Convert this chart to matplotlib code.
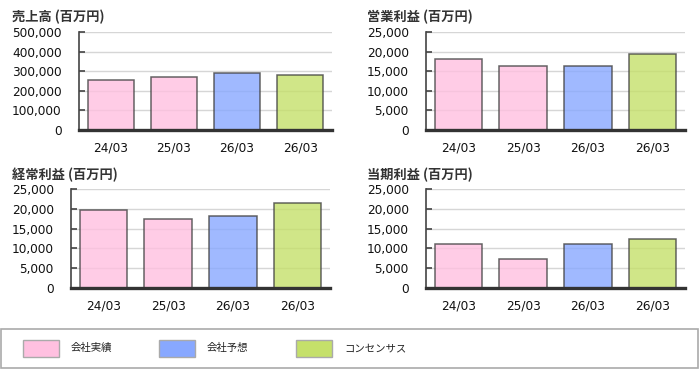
import matplotlib
matplotlib.use("Agg")
import matplotlib.pyplot as plt
from matplotlib.patches import Rectangle
from matplotlib.ticker import FuncFormatter, MultipleLocator

plt.rcParams['font.family'] = ['DejaVu Sans', 'Noto Sans CJK JP']

categories = ['24/03', '25/03', '26/03', '26/03']
series_kind = ['actual', 'actual', 'forecast', 'consensus']
sales = [254000, 270000, 289000, 283000]
operating = [18100, 16400, 16400, 19300]
ordinary = [19700, 17400, 18300, 21400]
net = [11200, 7200, 11200, 12500]

titles = ['売上高 (百万円)', '営業利益 (百万円)', '経常利益 (百万円)', '当期利益 (百万円)']
legend_labels = ['会社実績', '会社予想', 'コンセンサス']
kind_colors = {'actual': (255/255, 192/255, 224/255),
               'forecast': (136/255, 168/255, 255/255),
               'consensus': (197/255, 224/255, 106/255)}
legend_kinds = ['actual', 'forecast', 'consensus']

W, H = 699, 375
fig = plt.figure(figsize=(W/100, H/100), dpi=100)

def px_axes(left, right, top, bottom):
    return fig.add_axes([left/W, 1 - bottom/H, (right-left)/W, (bottom-top)/H])

panels = [
    (sales, 500000, 100000, (79, 332, 32, 130), (12, 17)),
    (operating, 25000, 5000, (426, 685, 32, 130), (367, 17)),
    (ordinary, 25000, 5000, (71, 330, 189, 288), (12, 175)),
    (net, 25000, 5000, (426, 685, 189, 288), (367, 175)),
]

for (vals, ymax, step, box, tpos), title in zip(panels, titles):
    ax = px_axes(*box)
    x = range(len(categories))
    for i, v in enumerate(vals):
        c = kind_colors[series_kind[i]]
        ax.bar(i, v, width=0.73, facecolor=(*c, 0.8),
               edgecolor=(0.25, 0.25, 0.25, 0.8), linewidth=1.1, zorder=3)
    ax.set_xlim(-0.5, 3.5)
    ax.set_ylim(0, ymax)
    ax.yaxis.set_major_locator(MultipleLocator(step))
    ax.yaxis.set_major_formatter(FuncFormatter(lambda v, p: f'{int(v):,}'))
    ax.set_xticks(list(x))
    ax.set_xticklabels(categories)
    ax.grid(axis='y', color='#d6d6d6', linewidth=1.0, zorder=0)
    ax.set_axisbelow(True)
    for s in ['top', 'right']:
        ax.spines[s].set_visible(False)
    ax.spines['left'].set_color('#444444')
    ax.spines['left'].set_linewidth(1.2)
    ax.spines['bottom'].set_color('#333333')
    ax.spines['bottom'].set_linewidth(2.4)
    ax.spines['bottom'].set_zorder(5)
    ax.tick_params(axis='y', direction='in', length=4.5, width=1.2,
                   color='#444444', pad=12.5, labelsize=8.7, labelcolor='#111111')
    ax.tick_params(axis='x', length=0, pad=8.5, labelsize=8.7, labelcolor='#111111')
    fig.text(tpos[0]/W, 1 - tpos[1]/H, title, fontsize=9.5, fontweight='bold',
             color='#333333', va='center', ha='left',
             family=['Noto Sans CJK JP', 'DejaVu Sans'])

# legend box
fig.patches.append(Rectangle((1/W, 1 - 368/H), 697/W, 39/H, transform=fig.transFigure,
                             facecolor='white', edgecolor='#aaaaaa', linewidth=1.2))
patch_x = [23, 159, 296]
text_x = [71, 207, 344]
for k, lab, px, tx in zip(legend_kinds, legend_labels, patch_x, text_x):
    fig.patches.append(Rectangle((px/W, 1 - 357/H), 36/W, 17/H, transform=fig.transFigure,
                                 facecolor=kind_colors[k], edgecolor='#aaaaaa', linewidth=1.0))
    fig.text(tx/W, 1 - 348/H, lab, fontsize=7.5, color='#222222', va='center', ha='left',
             family=['Noto Sans CJK JP', 'DejaVu Sans'])

fig.savefig('out.png', dpi=100)
